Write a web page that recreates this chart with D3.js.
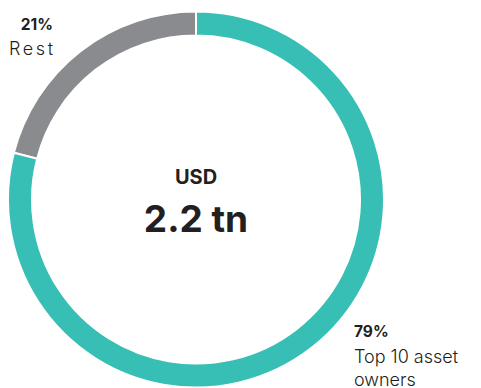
<!DOCTYPE html>
<html>
<head>
<meta charset="utf-8">
<script src="https://cdn.jsdelivr.net/npm/d3@7"></script>
<style>
  html, body { margin: 0; padding: 0; background: #fff; }
  svg { display: block; }
  text { font-family: Inter, Lato, sans-serif; fill: #231f20; }
</style>
</head>
<body>
<svg id="chart" width="481" height="388"></svg>
<script>
// Share of assets held
const categories = ["Rest", "Top 10 asset owners"];
const shares = [21, 79];
const shareLabels = ["21%", "79%"];
const colors = ["#8a8b8e", "#38bfb5"];
const totalUnit = "USD";
const totalLabel = "2.2 tn";

const svg = d3.select("#chart");
const cx = 196, cy = 199.5;
const outerR = 188, innerR = 164;

const pie = d3.pie()
  .sort(null)
  .startAngle(0)
  .endAngle(-2 * Math.PI)
  .value(d => d);

const arc = d3.arc()
  .innerRadius(innerR)
  .outerRadius(outerR);

const g = svg.append("g").attr("transform", `translate(${cx},${cy})`);

g.selectAll("path")
  .data(pie(shares))
  .join("path")
  .attr("d", arc)
  .attr("fill", (d, i) => colors[i])
  .attr("stroke", "#fff")
  .attr("stroke-width", 2);

// centre total
g.append("text")
  .attr("text-anchor", "middle")
  .attr("y", -16)
  .attr("font-size", 20)
  .attr("font-weight", 700)
  .text(totalUnit);

g.append("text")
  .attr("text-anchor", "middle")
  .attr("y", 32.5)
  .attr("font-size", 37)
  .attr("font-weight", 700)
  .text(totalLabel);

// slice labels
const restLabel = svg.append("g");
restLabel.append("text")
  .attr("x", 53).attr("y", 30)
  .attr("text-anchor", "end")
  .attr("font-size", 15.5).attr("font-weight", 700)
  .text(shareLabels[0]);
restLabel.append("text")
  .attr("x", 9).attr("y", 55)
  .attr("font-size", 18).attr("font-weight", 300)
  .attr("textLength", 44)
  .attr("lengthAdjust", "spacing")
  .text(categories[0]);

const topLabel = svg.append("g");
topLabel.append("text")
  .attr("x", 354).attr("y", 337)
  .attr("font-size", 15.5).attr("font-weight", 700)
  .text(shareLabels[1]);
const words = categories[1].split(" ");
const lines = [words.slice(0, 3).join(" "), words.slice(3).join(" ")];
topLabel.selectAll("text.line")
  .data(lines)
  .join("text")
  .attr("class", "line")
  .attr("x", 354)
  .attr("y", (d, i) => 362.5 + i * 23)
  .attr("font-size", 18).attr("font-weight", 300)
  .text(d => d);
</script>
</body>
</html>
